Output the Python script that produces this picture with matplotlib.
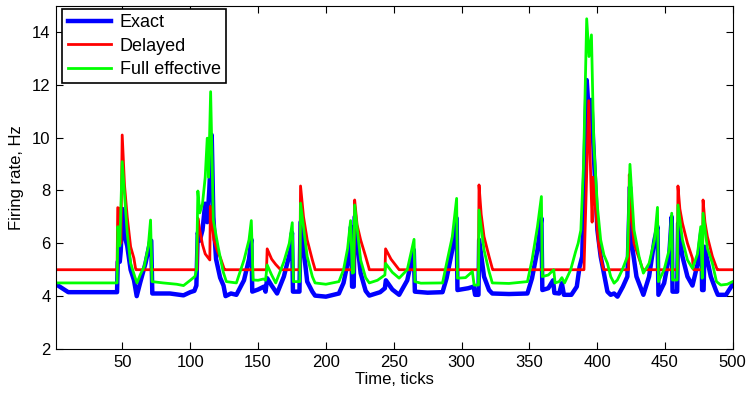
import numpy as np
import matplotlib
matplotlib.use("Agg")
import matplotlib.pyplot as plt

# vertices (time in ticks, rate in Hz)
exact_t = [1, 10, 46, 46.5, 48, 48.7, 50, 52, 53.5, 56, 58.5, 60.5, 63, 67, 70.5, 71.2, 72,
           85, 95, 100, 103,
           104.5, 105.5, 107, 109, 111, 112.5, 114, 115.8, 117, 119, 122, 124.5, 126, 130, 134,
           139.6, 143.3, 145, 145.7, 150, 154.3, 155.5, 156.7, 160, 164, 169, 174, 175, 175.7, 180.5,
           181.3, 186.2, 190, 192, 200, 209.6,
           213, 216.5, 218.5, 219.3, 220.5, 221.2, 225.6, 229.3, 232, 240, 243.5,
           244.2, 249, 254, 260, 264.8, 265.6, 275, 286,
           289, 293.2, 296.4, 297, 305, 309, 310, 312.5, 313, 316.6, 320.3, 322.7, 335, 348.6,
           352, 356, 358.9, 359.6, 364, 367.5, 368.5, 372, 374, 375.5, 381, 385, 387, 389,
           392.3, 394, 395.7, 397.5, 400.2, 402.6, 405, 407.6, 410, 412.5,
           415, 419, 422.3, 424.2, 425.5, 429, 434.1, 438.3, 442.3, 444.5, 445.2, 449.4, 453.1, 455, 455.6, 459,
           459.7, 462.9, 466.6, 470.3, 474, 476.8, 477.4, 478.5, 479.2, 483.8, 487.5, 489, 495, 500]
exact_v = [4.45, 4.15, 4.15, 5.3, 5.3, 5.7, 7.3, 6.2, 5.9, 5.0, 4.6, 4.0, 4.5, 5.25, 6.1, 6.1, 4.1,
           4.1, 4.03, 4.15, 4.2,
           4.4, 6.4, 6.1, 6.5, 7.5, 6.8, 8.0, 10.1, 7.0, 5.4, 4.7, 4.4, 4.0, 4.1, 4.05,
           4.6, 5.4, 6.15, 4.17, 4.25, 4.36, 4.17, 4.68, 4.4, 4.1, 4.74, 5.75, 6.4, 4.17, 4.17,
           6.8, 4.55, 4.17, 4.02, 3.98, 4.1,
           4.5, 5.37, 6.63, 4.36, 4.36, 7.0, 4.87, 4.2, 4.02, 4.15, 4.3,
           4.6, 4.25, 4.05, 4.6, 5.75, 4.17, 4.13, 4.15,
           4.68, 5.75, 6.95, 4.23, 4.3, 4.36, 4.05, 4.05, 6.13, 4.74, 4.23, 4.1, 4.08, 4.1,
           4.68, 5.75, 6.95, 4.23, 4.3, 4.6, 4.12, 4.1, 4.49, 4.05, 4.05, 4.36, 5.1, 5.5,
           12.18, 10.8, 11.43, 9.4, 6.5, 5.5, 4.87, 4.17, 4.05, 4.1,
           3.98, 4.36, 4.74, 8.14, 6.0, 4.74, 4.05, 4.74, 6.13, 6.63, 4.05, 4.49, 5.5, 7.0, 4.17, 4.17,
           6.76, 5.5, 4.74, 4.4, 5.2, 6.44, 4.23, 4.23, 5.87, 4.74, 4.23, 4.05, 4.05, 4.45]

delayed_t = [1, 46, 46.5, 48, 48.8, 49.8, 51.5, 53.5, 56, 58.4, 59.6, 60,
             105, 105.6, 107, 109, 111, 114.4, 114.8, 117.4, 120, 122.3, 124.8, 125.2,
             156.2, 156.7, 160, 163, 166.6,
             180.8, 181.3, 183.5, 186.2, 190, 191.7, 192,
             220.7, 221.2, 223, 225.6, 229.3, 231.7, 232,
             243.6, 244, 248, 251, 254,
             312.5, 312.9, 314.5, 316.6, 320.3, 322.7, 323,
             390.3, 392.5, 393.8, 395, 396.3, 397, 399, 401, 403, 404.5, 405,
             423.2, 423.7, 425.5, 427.2, 430.9, 433.4, 433.8,
             459.2, 459.6, 461, 462.9, 466.6, 470.3, 470.8, 471.2,
             477.7, 478.1, 479.5, 481.3, 485, 488.2, 488.6, 500]
delayed_v = [5, 5, 7.35, 7.3, 6.0, 10.1, 8.2, 7.0, 5.87, 5.44, 5.06, 5.0,
             5.0, 6.95, 6.5, 5.95, 5.6, 5.37, 7.4, 6.13, 5.7, 5.44, 5.06, 5.0,
             5.0, 5.79, 5.4, 5.2, 5.0,
             5.0, 8.17, 7.0, 6.13, 5.37, 5.07, 5.0,
             5.0, 7.64, 6.7, 6.13, 5.5, 5.07, 5.0,
             5.0, 5.79, 5.4, 5.2, 5.0,
             5.0, 8.21, 7.1, 6.25, 5.5, 5.05, 5.0,
             5.0, 9.0, 11.4, 9.0, 6.8, 8.5, 7.2, 6.0, 5.4, 5.05, 5.0,
             5.0, 8.6, 6.9, 6.0, 5.43, 5.05, 5.0,
             5.0, 8.17, 7.3, 6.76, 6.0, 5.43, 5.05, 5.0,
             5.0, 7.64, 6.8, 6.25, 5.5, 5.05, 5.0, 5.0]

full_t = [1, 46, 46.6, 48, 49.8, 53.5, 56, 59, 60.7, 63, 66, 69, 70.7, 71.8, 80, 90, 95, 100, 103.5,
          104.6, 105.6, 107, 109, 111, 112.5, 113.5, 115, 117, 120.5, 124.2, 126.6, 134,
          139.6, 143.3, 145, 146.3, 150, 154, 155.5, 156.7, 160, 163, 169, 173, 175.2, 176, 180.8,
          181.3, 186.2, 190, 192, 200, 209.6,
          213, 216, 218.2, 219.5, 220.5, 221.2, 225.6, 229.3, 232, 238, 243.5,
          244, 249, 254, 260, 265, 265.6, 270, 286,
          289, 293.2, 296.4, 297, 303, 308, 309.3, 312.5, 312.9, 316.6, 320.3, 322.7, 335, 348.6,
          352, 356, 358.9, 359.6, 364, 368, 369, 372, 374, 376, 380.5, 384.1, 386, 388, 390,
          392.3, 394, 395.8, 397.5, 400.2, 402.6, 405, 407.6, 410, 412.5,
          414.9, 418.6, 422.3, 424.2, 427.2, 430.9, 434.1, 438.3, 442.3, 444.5, 445.2, 449.4, 453.1, 455, 455.6, 459,
          459.6, 462.9, 466.6, 470.3, 474, 476.4, 477.5, 478.1, 481.3, 485, 488, 491.2, 496, 500]
full_v = [4.5, 4.5, 6.63, 5.9, 9.09, 6.39, 5.25, 4.75, 4.5, 4.8, 5.12, 5.87, 6.88, 4.55, 4.5, 4.45, 4.4, 4.6, 4.75,
          5.0, 7.98, 7.15, 7.5, 8.5, 9.98, 8.5, 11.74, 6.88, 5.87, 4.93, 4.55, 4.5,
          5.37, 6.13, 6.86, 4.61, 4.6, 4.65, 4.6, 5.18, 4.8, 4.5, 5.3, 6.0, 6.78, 4.55, 4.55,
          7.52, 5.5, 4.74, 4.5, 4.45, 4.55,
          5.0, 5.8, 6.86, 4.87, 4.9, 7.45, 5.37, 4.7, 4.5, 4.6, 4.8,
          5.24, 4.9, 4.68, 5.0, 6.15, 4.55, 4.49, 4.5,
          5.24, 6.25, 7.7, 4.68, 4.7, 4.93, 4.42, 4.42, 7.26, 5.75, 4.93, 4.5, 4.48, 4.55,
          5.37, 6.63, 7.77, 4.74, 4.8, 5.0, 4.5, 4.55, 4.7, 4.5, 5.0, 5.68, 6.0, 6.5, 9.0,
          14.5, 13.07, 13.89, 9.79, 7.39, 6.13, 5.56, 5.24, 4.74, 4.49,
          4.61, 5.0, 5.5, 8.99, 6.5, 5.5, 4.87, 5.24, 6.13, 7.36, 4.55, 5.0, 5.75, 7.14, 4.61, 4.61,
          7.45, 6.13, 5.37, 5.05, 5.6, 6.63, 4.68, 7.14, 5.81, 5.24, 4.55, 4.42, 4.45, 4.55]

plt.rcParams['font.family'] = ['Liberation Sans', 'DejaVu Sans']

fig = plt.figure(figsize=(7.5, 3.97), dpi=100)
ax = fig.add_axes([0.0747, 0.121, 0.9023, 0.865])

ax.plot(exact_t, exact_v, color='#0000ff', lw=3.2, label='Exact')
ax.plot(delayed_t, delayed_v, color='#ff0000', lw=2.0, label='Delayed')
ax.plot(full_t, full_v, color='#00ff00', lw=2.0, label='Full effective')

ax.set_xlim(1, 500)
ax.set_ylim(2, 15)
ax.set_xticks(np.arange(50, 501, 50))
ax.set_yticks(np.arange(2, 15, 2))
ax.tick_params(direction='in', top=True, right=True, labelsize=12, length=5, width=0.8, pad=4)
ax.set_xlabel('Time, ticks', fontsize=12, labelpad=2)
ax.set_ylabel('Firing rate, Hz', fontsize=12, labelpad=6)
for s in ax.spines.values():
    s.set_linewidth(0.8)

leg = ax.legend(loc='upper left', bbox_to_anchor=(0.009, 0.99), borderaxespad=0,
                fontsize=13, handlelength=2.4, frameon=True, fancybox=False,
                borderpad=0.3, labelspacing=0.35, handletextpad=0.5)
leg.get_frame().set_edgecolor('black')
leg.get_frame().set_linewidth(1.2)
leg.get_frame().set_alpha(1)

fig.savefig('out.png', dpi=100)
